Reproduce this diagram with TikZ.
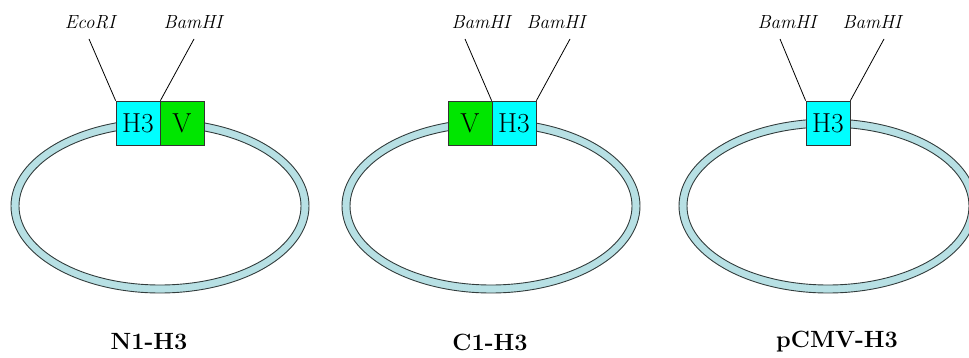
\documentclass[tikz,border=0pt]{standalone}
\usetikzlibrary{calc}
\definecolor{ringfill}{RGB}{183,224,228}
\definecolor{ringline}{RGB}{50,60,60}
\definecolor{hcyan}{RGB}{0,255,255}
\definecolor{vgreen}{RGB}{0,230,0}
\begin{document}
\begin{tikzpicture}[x=1pt,y=-1pt,
  genebox/.style={draw=black!80,line width=0.8pt,minimum width=44pt,minimum height=44pt,inner sep=0pt,font=\fontsize{27.5}{29}\selectfont},
  h3box/.style={genebox,fill=hcyan},
  vbox/.style={genebox,fill=vgreen},
  site/.style={font=\fontsize{19}{21}\selectfont\itshape,inner sep=0pt},
  siteline/.style={draw=black,line width=0.8pt},
  title/.style={font=\fontsize{23.5}{26}\selectfont\bfseries,inner sep=0pt},
  ring/.style={fill=ringfill,draw=ringline,line width=0.9pt,even odd rule}]
\useasboundingbox (0,0) rectangle (969,358);
% rings
\foreach \cx in {160,491,828}{
  \path[ring] (\cx,206) ellipse [x radius=149, y radius=87]
              (\cx,206) ellipse [x radius=141, y radius=79];
}
% panel 1
\node[h3box] (h1) at (138,123) {H3};
\node[vbox] (v1) at (182,123) {V};
\node[site] (s1a) at (90,22) {EcoRI};
\node[site] (s1b) at (193,22) {BamHI};
\coordinate (t1a) at (89,39);
\coordinate (t1b) at (194,39);
\draw[siteline] (t1a) -- (h1.north west);
\draw[siteline] (t1b) -- (h1.north east);
\node[title] (n1) at (149,342) {N1-H3};
% panel 2
\node[vbox] (v2) at (470,123) {V};
\node[h3box] (h2) at (514,123) {H3};
\node[site] (s2a) at (481,22) {BamHI};
\node[site] (s2b) at (556,22) {BamHI};
\coordinate (t2a) at (465,39);
\coordinate (t2b) at (570,39);
\draw[siteline] (t2a) -- (h2.north west);
\draw[siteline] (t2b) -- (h2.north east);
\node[title] (n2) at (490,342) {C1-H3};
% panel 3
\node[h3box] (h3) at (828,123) {H3};
\node[site] (s3a) at (787,22) {BamHI};
\node[site] (s3b) at (872,22) {BamHI};
\coordinate (t3a) at (780,39);
\coordinate (t3b) at (884,39);
\draw[siteline] (t3a) -- (h3.north west);
\draw[siteline] (t3b) -- (h3.north east);
\node[title] (n3) at (837,342) {pCMV-H3};
\end{tikzpicture}
\end{document}
